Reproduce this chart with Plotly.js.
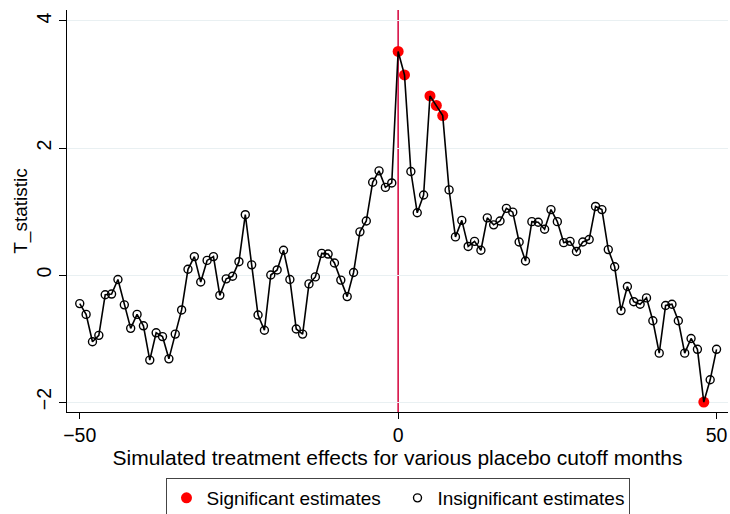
<!DOCTYPE html>
<html>
<head>
<meta charset="utf-8">
<script src="https://cdn.plot.ly/plotly-3.0.1.min.js"></script>
<style>
  html, body { margin: 0; padding: 0; background: #fff; }
  #chart { width: 730px; height: 514px; }
</style>
</head>
<body>
<div id="chart"></div>
<script>
// Placebo cutoff months relative to the true cutoff
const months = [];
for (let m = -50; m <= 50; m++) months.push(m);

// T statistic of the simulated treatment effect at each placebo cutoff
const tStats = [
  -0.45, -0.62, -1.05, -0.95, -0.31, -0.30, -0.07, -0.47, -0.84, -0.62,
  -0.80, -1.34, -0.91, -0.97, -1.32, -0.93, -0.55, 0.09, 0.29, -0.11,
  0.23, 0.29, -0.32, -0.06, -0.02, 0.21, 0.95, 0.16, -0.63, -0.87,
  0.00, 0.08, 0.39, -0.07, -0.85, -0.93, -0.14, -0.03, 0.34, 0.33,
  0.19, -0.08, -0.34, 0.04, 0.68, 0.85, 1.46, 1.64, 1.38, 1.45,
  3.52, 3.15, 1.63, 0.98, 1.26, 2.82, 2.67, 2.51, 1.34, 0.60,
  0.86, 0.45, 0.53, 0.39, 0.90, 0.79, 0.85, 1.05, 0.99, 0.52,
  0.22, 0.84, 0.83, 0.72, 1.03, 0.84, 0.51, 0.53, 0.37, 0.52,
  0.56, 1.08, 1.03, 0.40, 0.13, -0.56, -0.18, -0.42, -0.46, -0.36,
  -0.72, -1.23, -0.48, -0.46, -0.72, -1.23, -1.00, -1.17, -2.00, -1.65,
  -1.17
];

// Months whose estimate is statistically significant
const significantMonths = [0, 1, 5, 6, 7, 48];

// True cutoff marked with a vertical line
const cutoffMonth = 0;

const sigX = [], sigY = [], insX = [], insY = [];
months.forEach((m, i) => {
  if (significantMonths.includes(m)) { sigX.push(m); sigY.push(tStats[i]); }
  else { insX.push(m); insY.push(tStats[i]); }
});

const font = 'Liberation Sans, Arial, Helvetica, sans-serif';

const traces = [
  {
    x: sigX, y: sigY, type: 'scatter', mode: 'markers',
    name: 'Significant estimates',
    marker: { color: '#ff0000', size: 11, symbol: 'circle' },
    cliponaxis: false
  },
  {
    x: months, y: tStats, type: 'scatter', mode: 'lines',
    line: { color: '#000', width: 1.6 },
    showlegend: false, hoverinfo: 'skip'
  },
  {
    x: insX, y: insY, type: 'scatter', mode: 'markers',
    name: 'Insignificant estimates',
    marker: { color: '#000', size: 8, symbol: 'circle-open', line: { width: 1.4, color: '#000' } },
    cliponaxis: false
  }
];

const layout = {
  width: 730, height: 514,
  margin: { l: 67, r: 2, t: 10, b: 102 },
  paper_bgcolor: '#fff', plot_bgcolor: '#fff',
  font: { family: font, color: '#000', size: 19 },
  showlegend: true,
  xaxis: {
    range: [-52, 51.8],
    tickvals: [-50, 0, 50],
    ticks: 'outside', ticklen: 6, tickwidth: 1, tickcolor: '#000',
    showline: true, linecolor: '#000', linewidth: 1,
    showgrid: false, zeroline: false,
    tickfont: { size: 19.5 },
    title: { text: 'Simulated treatment effects for various placebo cutoff months', font: { size: 21 }, standoff: 3 }
  },
  yaxis: {
    range: [-2.157, 4.173],
    tickvals: [-2, 0, 2, 4],
    tickangle: -90,
    ticks: 'outside', ticklen: 7, tickwidth: 1, tickcolor: '#000',
    showline: true, linecolor: '#000', linewidth: 1,
    showgrid: true, gridcolor: '#e9f0f2', gridwidth: 1,
    zeroline: false,
    tickfont: { size: 19.5 },
    title: { text: 'T_statistic', font: { size: 19 }, standoff: 0 }
  },
  shapes: [{
    type: 'line', xref: 'x', yref: 'paper',
    x0: cutoffMonth, x1: cutoffMonth, y0: 0, y1: 1,
    line: { color: '#d4003a', width: 1.5 },
    layer: 'below'
  }],
  legend: {
    orientation: 'h', x: 0.5, xref: 'paper', xanchor: 'center',
    y: 1 - 478 / 514, yref: 'container', yanchor: 'top',
    bordercolor: '#444', borderwidth: 1,
    font: { size: 19 },
    entrywidth: 186, entrywidthmode: 'pixels'
  }
};

Plotly.newPlot('chart', traces, layout, { displayModeBar: false, staticPlot: true });
</script>
</body>
</html>
